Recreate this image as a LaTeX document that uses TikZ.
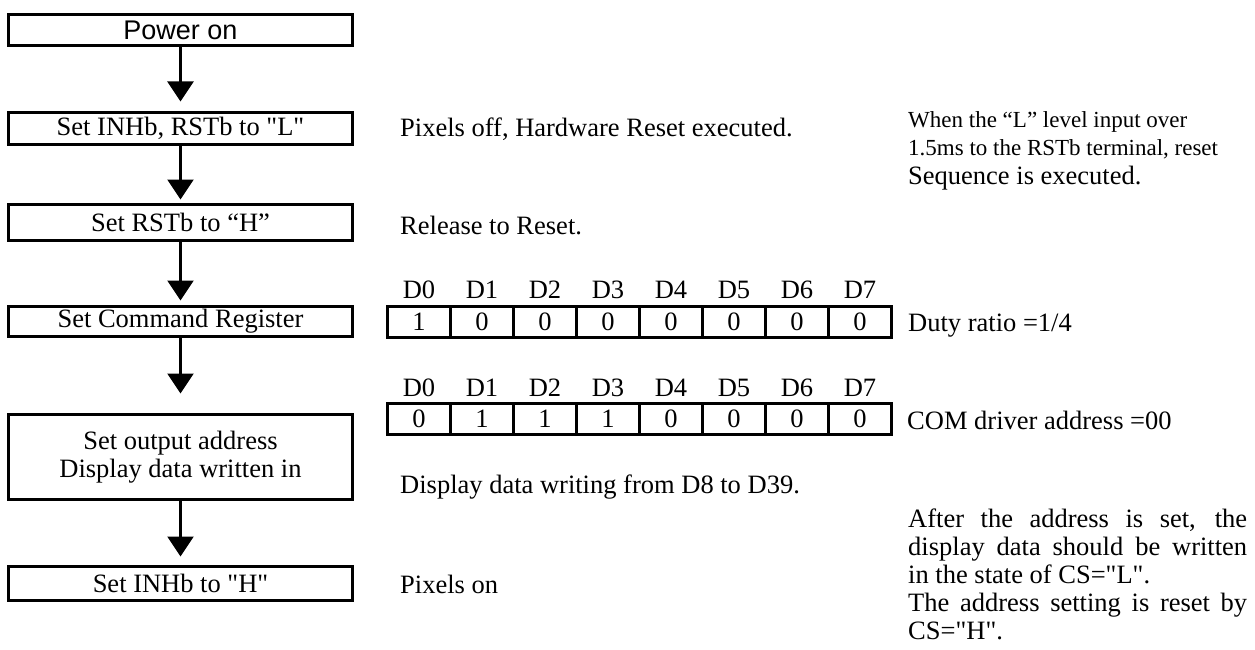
\documentclass[tikz,border=0pt]{standalone}
\usepackage{fontspec}
\setmainfont{Liberation Serif}[Ligatures=TeXOff]
\newfontfamily\arialf{Liberation Sans}[Ligatures=TeXOff]
\usetikzlibrary{arrows.meta}
\begin{document}
\begin{tikzpicture}[x=1pt,y=1pt,
  stepbox/.style={draw, line width=3pt, minimum width=344pt, inner sep=0pt,
    font=\fontsize{26.5}{28}\selectfont, align=center},
  flowarrow/.style={line width=2.2pt, -{Triangle[width=26pt,length=20pt]}},
  cell/.style={draw, line width=3pt, minimum width=63pt, minimum height=31pt,
    inner sep=0pt, font=\fontsize{26.5}{28}\selectfont},
  bitlabel/.style={anchor=base, inner sep=0pt, font=\fontsize{26.5}{28}\selectfont},
  note/.style={anchor=base west, inner sep=0pt, font=\fontsize{26.5}{28}\selectfont},
  smallnote/.style={anchor=base west, inner sep=0pt, font=\fontsize{23}{28}\selectfont}
]
\useasboundingbox (0,0) rectangle (1255,-650);
\fill[white] (0,0) rectangle (1255,-650);

% flow boxes
\node[stepbox, minimum height=31pt, font=\arialf\fontsize{27}{28}\selectfont] (power) at (180.5,-30) {Power on};
\node[stepbox, minimum height=32pt] (inhl) at (180.5,-128.5) {Set INHb, RSTb to "L"};
\node[stepbox, minimum height=36pt] (rsth) at (180.5,-222.5) {Set RSTb to “H”};
\node[stepbox, minimum height=30pt] (cmd) at (180.5,-321.5) {Set Command Register};
\node[stepbox, minimum height=85pt] (out) at (180.5,-457) {Set output address\\Display data written in};
\node[stepbox, minimum height=34pt] (inhh) at (180.5,-583.5) {Set INHb to "H"};

% arrows
\draw[flowarrow, shorten >=9.5pt] (power.south) -- (inhl.north);
\draw[flowarrow, shorten >=3.5pt] (inhl.south) -- (rsth.north);
\draw[flowarrow, shorten >=4.5pt] (rsth.south) -- (cmd.north);
\draw[flowarrow, shorten >=19.5pt] (cmd.south) -- (out.north);
\draw[flowarrow, shorten >=8.5pt] (out.south) -- (inhh.north);

% registers
\foreach \v [count=\i from 0] in {1,0,0,0,0,0,0,0} {
  \node[cell] (ra\i) at ({387.5+63*(\i+0.5)},-322) {\v};
  \node[bitlabel] (la\i) at ({387.5+63*(\i+0.5)},-298) {D\i};
}
\foreach \v [count=\i from 0] in {0,1,1,1,0,0,0,0} {
  \node[cell] (rb\i) at ({387.5+63*(\i+0.5)},-419) {\v};
  \node[bitlabel] (lb\i) at ({387.5+63*(\i+0.5)},-396) {D\i};
}

% descriptions
\node[note] (d1) at (400,-137) {Pixels off, Hardware Reset executed.};
\node[note] (d2) at (400,-234) {Release to Reset.};
\node[note] (d3) at (908,-331.5) {Duty ratio =1/4};
\node[note] (d4) at (907,-429) {COM driver address =00};
\node[note] (d5) at (400,-493) {Display data writing from D8 to D39.};
\node[note] (d6) at (400,-593) {Pixels on};

% reset note
\node[smallnote] (n1) at (908,-128) {When the “L” level input over};
\node[smallnote] (n2) at (908,-156) {1.5ms to the RSTb terminal, reset};
\node[note] (n3) at (908,-184) {Sequence is executed.};

% address note
\node[anchor=north west, inner sep=0pt, align=left, font=\fontsize{26.5}{28}\selectfont] (n4) at (908,-508.7)
  {\makebox[339pt][s]{After the address is set, the}\\
   \makebox[339pt][s]{display data should be written}\\
   in the state of CS="L".\\
   \makebox[339pt][s]{The address setting is reset by}\\
   CS="H".};
\end{tikzpicture}
\end{document}
